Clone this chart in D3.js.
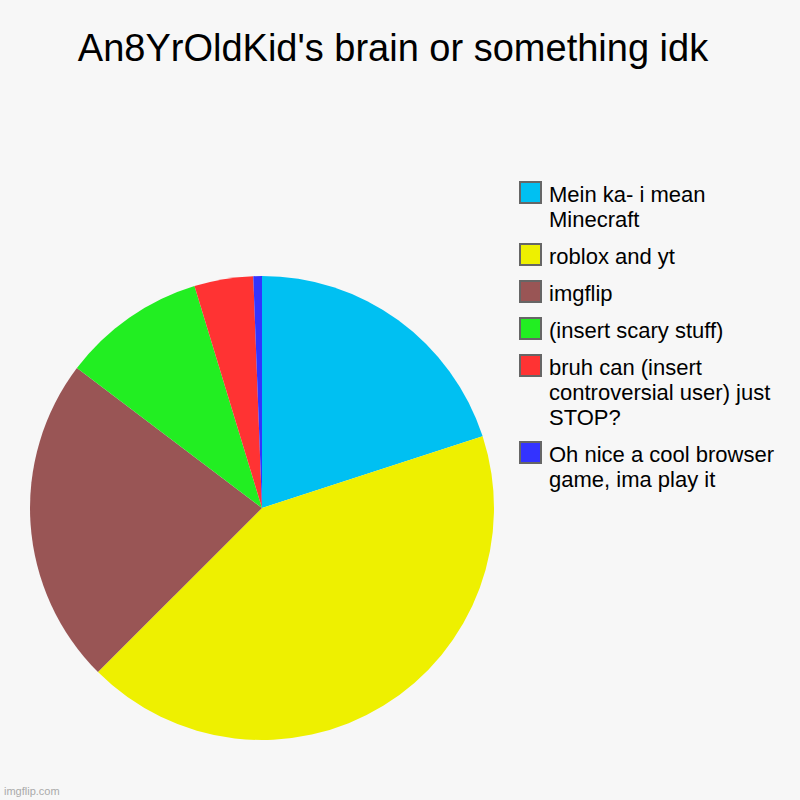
<!DOCTYPE html>
<html>
<head>
<meta charset="utf-8">
<script src="https://cdn.jsdelivr.net/npm/d3@7"></script>
<style>
  body { margin: 0; background: #f7f7f7; }
  svg { display: block; }
</style>
</head>
<body>
<svg id="chart" width="800" height="800"></svg>
<script>
// data
const categories = ["Mein ka- i mean Minecraft", "roblox and yt", "imgflip", "(insert scary stuff)", "bruh can (insert controversial user) just STOP?", "Oh nice a cool browser game, ima play it"];
const values = [20, 42.5, 22.8, 10, 4.1, 0.6];
const colours = ["#00c0f2", "#eef000", "#995555", "#22ee22", "#ff3333", "#3333ff"];
const title = "An8YrOldKid's brain or something idk";

const svg = d3.select("#chart");
svg.append("rect").attr("width", 800).attr("height", 800).attr("fill", "#f7f7f7");

svg.append("text")
    .attr("x", 393).attr("y", 61)
    .attr("text-anchor", "middle")
    .style("font-family", "'Liberation Sans', Arial, sans-serif")
    .style("font-size", "38px")
    .attr("fill", "#000")
    .text(title);

const data = categories.map((c, i) => ({name: c, value: values[i], colour: colours[i]}));

const pie = d3.pie().sort(null).value(d => d.value);
const arc = d3.arc().innerRadius(0).outerRadius(232);

const g = svg.append("g").attr("transform", "translate(262,508)");
g.selectAll("path")
    .data(pie(data))
    .enter().append("path")
    .attr("d", arc)
    .attr("fill", d => d.data.colour);

// legend
const legend = svg.append("g").attr("transform", "translate(519,181)");
let y = 0;
data.forEach(d => {
    const item = legend.append("g").attr("transform", `translate(0,${y})`);
    item.append("rect")
        .attr("x", 1).attr("y", 1)
        .attr("width", 21).attr("height", 21)
        .attr("fill", d.colour)
        .attr("stroke", "#666").attr("stroke-width", 2);
    const txt = item.append("text")
        .attr("x", 30).attr("y", 21)
        .style("font-family", "'Liberation Sans', Arial, sans-serif")
        .style("font-size", "22px")
        .attr("fill", "#000");
    // simple word wrap
    const words = d.name.split(" ");
    let line = [];
    let lines = 0;
    let tspan = txt.append("tspan").attr("x", 30).attr("dy", 0);
    words.forEach(w => {
        line.push(w);
        tspan.text(line.join(" "));
        if (tspan.node().getComputedTextLength() > 240 && line.length > 1) {
            line.pop();
            tspan.text(line.join(" "));
            line = [w];
            lines++;
            tspan = txt.append("tspan").attr("x", 30).attr("dy", 25).text(w);
        }
    });
    y += 37 + lines * 25;
});

svg.append("text")
    .attr("x", 4).attr("y", 795)
    .style("font-family", "'Liberation Sans', Arial, sans-serif")
    .style("font-size", "11px")
    .attr("fill", "#aaa")
    .text("imgflip.com");
</script>
</body>
</html>
